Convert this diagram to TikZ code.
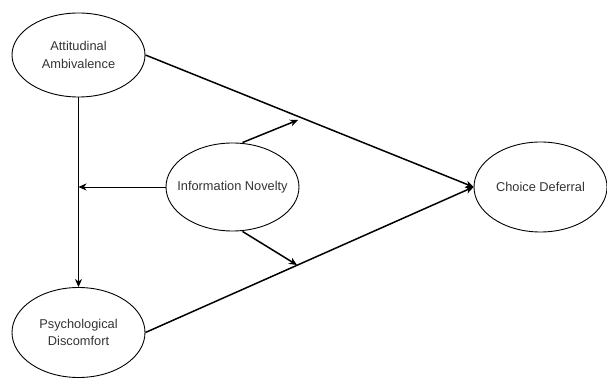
\documentclass[tikz,border=0pt]{standalone}
\usepackage{fontspec}
\setmainfont{Liberation Sans}
\usetikzlibrary{shapes.geometric,arrows.meta}
\definecolor{txt}{HTML}{333333}
\tikzset{
  var/.style={draw=black, line width=0.9pt, ellipse, minimum width=133pt, minimum height=88pt, inner xsep=-30pt, inner ysep=0pt, align=center, font=\fontsize{12.8}{17.5}\selectfont, text=txt},
  thin/.style={draw=black, line width=0.9pt, -{Stealth[length=8pt,width=7pt,inset=2.5pt]}},
  thick/.style={draw=black, line width=1.5pt, -{Stealth[length=8pt,width=7pt,inset=2.5pt]}}
}
\begin{document}
\begin{tikzpicture}[x=1pt,y=-1pt]
\useasboundingbox (0,0) rectangle (607,379);
\node[var, minimum height=84pt] (aa) at (78.5,55) {Attitudinal\\Ambivalence};
\node[var] (in) at (232.5,187) {Information Novelty};
\node[var, minimum height=90pt] (pd) at (78.5,332.5) {Psychological\\Discomfort};
\node[var, minimum height=90pt] (cd) at (540.5,187) {Choice Deferral};
\coordinate (m) at (78.5,187);
\coordinate (t1) at (298,120);
\coordinate (t2) at (297,265);
\draw[thin] (aa.south) -- (pd.north);
\draw[thin] (in.west) -- (m);
\draw[thick] (aa.east) -- (cd.west);
\draw[thick] (pd.east) -- (cd.west);
\draw[thick] (in.north) ++(10,0) coordinate (inn) -- (t1);
\draw[thick] (in.south) ++(10,0) coordinate (ins) -- (t2);
\end{tikzpicture}
\end{document}
